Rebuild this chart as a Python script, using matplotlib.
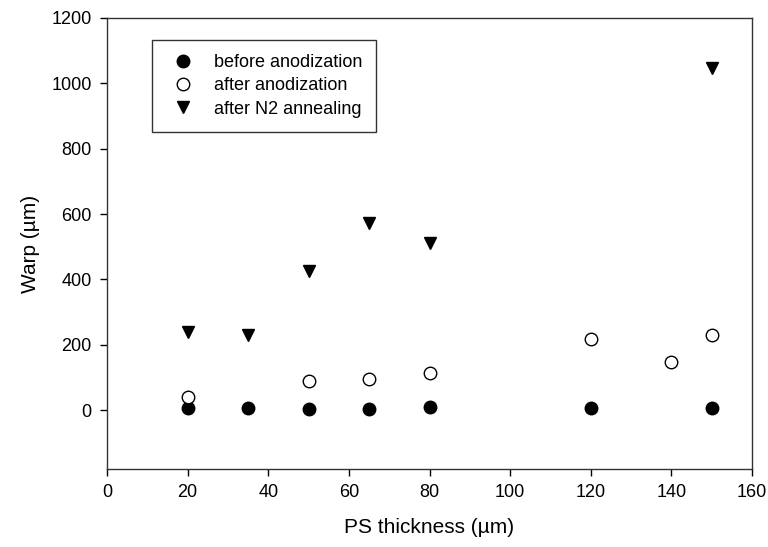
import matplotlib
matplotlib.use("Agg")
import matplotlib.pyplot as plt

plt.rcParams["font.family"] = ["Liberation Sans", "DejaVu Sans"]

x_before = [20, 35, 50, 65, 80, 120, 150]
warp_before = [7, 7, 5, 3, 9, 7, 6]

x_after = [20, 50, 65, 80, 120, 140, 150]
warp_after = [40, 88, 95, 113, 217, 147, 230]

x_n2 = [20, 35, 50, 65, 80, 150]
warp_n2 = [240, 230, 425, 572, 513, 1048]

fig = plt.figure(figsize=(7.68, 5.47), dpi=100)
ax = fig.add_axes([107 / 768, 1 - 469 / 547, 645 / 768, 451 / 547])

ax.plot(x_before, warp_before, "o", color="black", markersize=9, label="before anodization", linestyle="none")
ax.plot(x_after, warp_after, "o", markerfacecolor="white", markeredgecolor="black", markeredgewidth=1.0,
        markersize=9, label="after anodization", linestyle="none")
ax.plot(x_n2, warp_n2, "v", color="black", markersize=9, label="after N2 annealing", linestyle="none")

ax.set_xlim(0, 160)
ax.set_ylim(-180, 1200)
ax.set_xticks(range(0, 161, 20))
ax.set_yticks(range(0, 1201, 200))
ax.tick_params(direction="out", length=5, width=1, labelsize=13, colors="black", pad=6)
for s in ax.spines.values():
    s.set_linewidth(1)
    s.set_color("#333333")

ax.set_xlabel("PS thickness (µm)", fontsize=15, labelpad=12)
ax.set_ylabel("Warp (µm)", fontsize=15, labelpad=8)

leg = ax.legend(loc="upper left", bbox_to_anchor=(0.07, 0.952), fancybox=False, frameon=True,
                edgecolor="black", fontsize=13, handletextpad=0.8, borderpad=0.8,
                labelspacing=0.35, handlelength=1.8, borderaxespad=0)
leg.get_frame().set_linewidth(1)

fig.savefig("out.png", dpi=100)
plt.close(fig)
